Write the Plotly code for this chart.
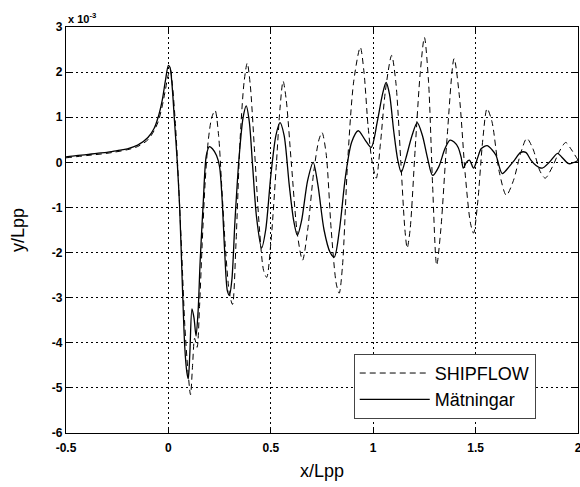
import plotly.graph_objects as go

# Measured (Mätningar) – y in units of 1e-3
x_meas = [-0.5, -0.45, -0.4, -0.35, -0.3, -0.25, -0.2, -0.15, -0.1, -0.07, -0.05, -0.03, -0.015,
          0.0, 0.008, 0.018, 0.03, 0.042, 0.055, 0.068, 0.08, 0.09, 0.097, 0.105, 0.115, 0.125,
          0.135, 0.145, 0.155, 0.17, 0.185, 0.2, 0.215, 0.235, 0.25, 0.262, 0.275, 0.288, 0.298,
          0.31, 0.325, 0.345, 0.365, 0.38, 0.395, 0.41, 0.43, 0.455, 0.475, 0.5, 0.525, 0.545,
          0.565, 0.59, 0.612, 0.63, 0.65, 0.68, 0.707, 0.73, 0.76, 0.79, 0.81, 0.835, 0.865,
          0.895, 0.927, 0.96, 0.99, 1.02, 1.045, 1.063, 1.08, 1.1, 1.12, 1.137, 1.16, 1.19,
          1.215, 1.24, 1.265, 1.29, 1.32, 1.35, 1.375, 1.395, 1.415, 1.43, 1.44, 1.455, 1.47,
          1.49, 1.51, 1.527, 1.556, 1.58, 1.6, 1.63, 1.663, 1.69, 1.72, 1.745, 1.77, 1.795,
          1.825, 1.86, 1.9, 1.92, 1.955, 2.0]
y_meas = [0.12, 0.15, 0.17, 0.2, 0.22, 0.26, 0.3, 0.38, 0.55, 0.75, 1.0, 1.38, 1.8,
          2.15, 2.1, 1.7, 0.9, 0.1, -1.0, -2.7, -4.1, -4.65, -4.8, -4.2, -3.25, -3.45,
          -3.85, -3.3, -2.2, -0.9, 0.15, 0.35, 0.3, 0.15, -0.1, -0.8, -2.0, -2.85, -2.95,
          -2.6, -1.3, 0.1, 1.0, 1.25, 0.9, 0.0, -1.2, -1.9, -1.5, -0.3, 0.6, 0.88,
          0.6, -0.5, -1.3, -1.62, -1.3, -0.4, 0.0, -0.5, -1.5, -2.0, -2.1, -1.5, -0.3,
          0.45, 0.7, 0.5, 0.33, 0.9, 1.5, 1.77, 1.5, 0.7, 0.05, -0.22, 0.1, 0.6,
          0.88, 0.6, 0.1, -0.29, -0.1, 0.3, 0.49, 0.45, 0.33, 0.1, -0.13, 0.0, 0.05,
          -0.13, 0.1, 0.3, 0.37, 0.28, 0.15, -0.25, -0.1, 0.05, 0.22, 0.22, 0.05, -0.07,
          -0.13, 0.0, 0.2, 0.12, -0.03, 0.04]

# SHIPFLOW computation – y in units of 1e-3
x_ship = [-0.5, -0.4, -0.3, -0.2, -0.15, -0.1, -0.07, -0.05, -0.03, -0.015, 0.0, 0.01, 0.02,
          0.035, 0.05, 0.065, 0.08, 0.095, 0.108, 0.118, 0.128, 0.14, 0.152, 0.165, 0.18,
          0.195, 0.212, 0.228, 0.245, 0.26, 0.28, 0.298, 0.313, 0.33, 0.35, 0.37, 0.385,
          0.4, 0.42, 0.445, 0.465, 0.48, 0.5, 0.525, 0.545, 0.56, 0.575, 0.6, 0.63, 0.655,
          0.68, 0.71, 0.735, 0.75, 0.77, 0.795, 0.82, 0.834, 0.85, 0.875, 0.905, 0.937,
          0.955, 0.975, 0.995, 1.015, 1.035, 1.06, 1.09, 1.11, 1.135, 1.155, 1.166, 1.18,
          1.205, 1.23, 1.25, 1.27, 1.29, 1.31, 1.33, 1.36, 1.395, 1.42, 1.45, 1.475, 1.49,
          1.51, 1.535, 1.556, 1.58, 1.615, 1.65, 1.685, 1.72, 1.75, 1.78, 1.815, 1.84,
          1.875, 1.91, 1.94, 1.965, 2.0]
y_ship = [0.1, 0.15, 0.2, 0.28, 0.35, 0.5, 0.7, 0.9, 1.25, 1.6, 1.95, 2.05, 1.7,
          0.8, -0.5, -2.0, -3.6, -4.6, -5.15, -4.5, -3.9, -4.1, -3.2, -1.8, -0.4,
          0.5, 1.0, 1.15, 0.6, -0.5, -2.0, -2.9, -3.15, -1.8, 0.5, 1.8, 2.2,
          1.7, 0.3, -1.5, -2.4, -2.55, -1.8, -0.2, 1.2, 1.8, 1.4, 0.0, -1.6, -2.17,
          -1.5, -0.2, 0.5, 0.66, 0.2, -1.5, -2.7, -2.9, -2.3, 0.0, 1.8, 2.55,
          2.0, 0.8, 0.0, -0.35, 0.4, 1.6, 2.37, 1.8, 0.0, -1.5, -1.9, -1.5,
          0.3, 2.0, 2.77, 1.8, -0.5, -2.28, -1.5, 0.5, 2.3, 1.5, -0.3, -1.35, -1.57,
          -0.9, 0.5, 1.19, 0.9, -0.2, -0.73, -0.4, 0.2, 0.53, 0.3, -0.2, -0.35,
          -0.1, 0.25, 0.44, 0.3, 0.05]

x_ticks = [-0.5, 0, 0.5, 1, 1.5, 2]
x_ticklabels = ["-0.5", "0", "0.5", "1", "1.5", "2"]
y_ticks = [-6, -5, -4, -3, -2, -1, 0, 1, 2, 3]
y_ticklabels = ["-6", "-5", "-4", "-3", "-2", "-1", "0", "1", "2", "3"]

FONT = "Liberation Sans, Arial, sans-serif"

fig = go.Figure()
fig.add_trace(go.Scatter(x=x_ship, y=y_ship, mode="lines", name="SHIPFLOW",
                         line=dict(color="black", width=1, dash="6px,4px", shape="spline", smoothing=0.8)))
fig.add_trace(go.Scatter(x=x_meas, y=y_meas, mode="lines", name="Mätningar",
                         line=dict(color="black", width=1.3, shape="spline", smoothing=0.8)))

tickfont = dict(family=FONT, size=12, color="black", weight="bold")
axis_common = dict(showline=True, linecolor="black", linewidth=1.2, mirror="ticks",
                   ticks="inside", ticklen=5, tickcolor="black", showgrid=True,
                   gridcolor="black", gridwidth=1, griddash="2px,3px", zeroline=False,
                   tickfont=tickfont, ticklabeloverflow="allow", automargin=False)

fig.update_layout(
    width=580, height=487,
    margin=dict(l=66, r=2, t=27, b=54),
    paper_bgcolor="white", plot_bgcolor="white",
    showlegend=True,
    legend=dict(x=0.562, y=0.195, xanchor="left", yanchor="top",
                bgcolor="white", bordercolor="#444", borderwidth=1,
                font=dict(family=FONT, size=18, color="black"),
                itemwidth=70, tracegroupgap=0),
    xaxis=dict(range=[-0.5, 2], tickvals=x_ticks, ticktext=x_ticklabels, ticklabelstandoff=3,
               title=dict(text="x/Lpp", font=dict(family=FONT, size=18, color="black"), standoff=10),
               **axis_common),
    yaxis=dict(range=[-6, 3], tickvals=y_ticks, ticktext=y_ticklabels,
               title=dict(text="y/Lpp", font=dict(family=FONT, size=18, color="black"), standoff=22),
               **axis_common),
)
fig.add_annotation(xref="paper", yref="paper", x=0.0, y=1.0, xanchor="left", yanchor="bottom",
                   text="<b>x 10<sup>-3</sup></b>", showarrow=False,
                   font=dict(family=FONT, size=11, color="black"))

fig.write_html("out.html")
